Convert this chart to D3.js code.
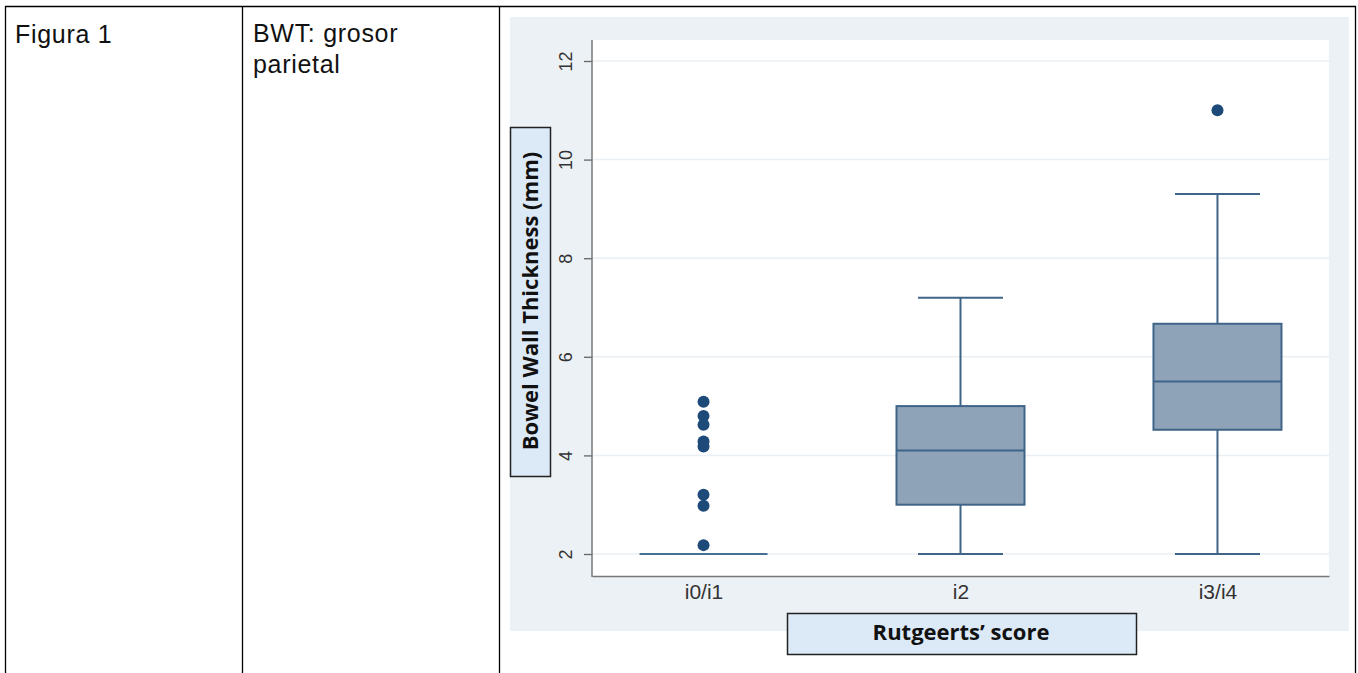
<!DOCTYPE html>
<html><head><meta charset="utf-8">
<script src="https://cdn.jsdelivr.net/npm/d3@7"></script>
<style>body{margin:0;background:#fff}svg{display:block}</style>
</head><body>
<svg id="c" width="1358" height="673"></svg>
<script>
const categories = ["i0/i1", "i2", "i3/i4"];
const q1 = [2, 3.0, 4.52];
const median = [2, 4.1, 5.5];
const q3 = [2, 5.0, 6.67];
const whiskerLow = [2, 2, 2];
const whiskerHigh = [2, 7.2, 9.3];
const outliers = [[5.09, 4.8, 4.62, 4.28, 4.18, 3.2, 2.98, 2.18], [], [11.0]];
const yTicks = [2, 4, 6, 8, 10, 12];

const svg = d3.select("#c");
// table lines
const tbl = svg.append("g").attr("stroke", "#000").attr("stroke-width", 1.3);
tbl.append("line").attr("x1", 5).attr("x2", 1356).attr("y1", 6.5).attr("y2", 6.5);
[5.5, 242.5, 499.5, 1355.5].forEach(x => tbl.append("line").attr("x1", x).attr("x2", x).attr("y1", 6).attr("y2", 673));
const cellFont = t => t.attr("font-family", "Liberation Sans, Arial").attr("font-size", 25).attr("letter-spacing", 0.7).attr("fill", "#111");
svg.append("text").attr("x", 15).attr("y", 43).call(cellFont).text("Figura 1");
svg.append("text").attr("x", 253).attr("y", 42).call(cellFont).text("BWT: grosor");
svg.append("text").attr("x", 253).attr("y", 73).call(cellFont).text("parietal");

// chart background
svg.append("rect").attr("x", 510).attr("y", 17).attr("width", 839).attr("height", 614).attr("fill", "#ecf1f5");
const L = 592, R = 1329, T = 40, B = 576;
svg.append("rect").attr("x", L).attr("y", T).attr("width", R - L).attr("height", B - T).attr("fill", "#fff");

const y = d3.scaleLinear().domain([2, 12]).range([554, 61]);
const x = d3.scalePoint().domain(categories).range([L, R]).padding(0.434);
const boxW = 128, capW = 85;

// grid
svg.append("g").selectAll("line").data(yTicks).join("line")
  .attr("x1", L).attr("x2", R).attr("y1", d => y(d)).attr("y2", d => y(d))
  .attr("stroke", "#eaeff3").attr("stroke-width", 1.5);

// axes
const ya = svg.append("g").attr("transform", `translate(${L},0)`)
  .call(d3.axisLeft(y).tickValues(yTicks).tickSize(8).tickFormat(d3.format("d")));
ya.select(".domain").remove();
ya.selectAll(".tick line").attr("stroke", "#666").attr("stroke-width", 1.3);
ya.selectAll(".tick text").attr("transform", "rotate(-90)").attr("x", 0).attr("y", -26)
  .attr("dy", "0.35em").attr("text-anchor", "middle").attr("font-family", "Liberation Sans, Arial")
  .attr("font-size", 18).attr("fill", "#333");
svg.append("line").attr("x1", L).attr("x2", L).attr("y1", T).attr("y2", B + 1).attr("stroke", "#777").attr("stroke-width", 1.5);

const xa = svg.append("g").attr("transform", `translate(0,${B})`).call(d3.axisBottom(x).tickSize(0));
xa.select(".domain").attr("stroke", "#777").attr("stroke-width", 1.5);
xa.selectAll(".tick text").attr("y", 16).attr("dy", "0.35em").attr("font-family", "Liberation Sans, Arial")
  .attr("font-size", 21).attr("fill", "#333");

// boxes
const stroke = "#3f6488", fill = "#8fa3b8";
categories.forEach((c, i) => {
  const cx = x(c);
  const g = svg.append("g");
  if (q3[i] > q1[i]) {
    g.append("line").attr("x1", cx).attr("x2", cx).attr("y1", y(q3[i])).attr("y2", y(whiskerHigh[i])).attr("stroke", stroke).attr("stroke-width", 2);
    g.append("line").attr("x1", cx).attr("x2", cx).attr("y1", y(q1[i])).attr("y2", y(whiskerLow[i])).attr("stroke", stroke).attr("stroke-width", 2);
    g.append("line").attr("x1", cx - capW / 2).attr("x2", cx + capW / 2).attr("y1", y(whiskerHigh[i])).attr("y2", y(whiskerHigh[i])).attr("stroke", stroke).attr("stroke-width", 2);
    g.append("line").attr("x1", cx - capW / 2).attr("x2", cx + capW / 2).attr("y1", y(whiskerLow[i])).attr("y2", y(whiskerLow[i])).attr("stroke", stroke).attr("stroke-width", 2);
    g.append("rect").attr("x", cx - boxW / 2).attr("y", y(q3[i])).attr("width", boxW).attr("height", y(q1[i]) - y(q3[i]))
      .attr("fill", fill).attr("stroke", stroke).attr("stroke-width", 2);
    g.append("line").attr("x1", cx - boxW / 2).attr("x2", cx + boxW / 2).attr("y1", y(median[i])).attr("y2", y(median[i])).attr("stroke", stroke).attr("stroke-width", 2);
  } else {
    g.append("line").attr("x1", cx - boxW / 2).attr("x2", cx + boxW / 2).attr("y1", y(median[i])).attr("y2", y(median[i])).attr("stroke", "#4a6f95").attr("stroke-width", 2);
  }
  g.selectAll("circle").data(outliers[i]).join("circle").attr("cx", cx).attr("cy", d => y(d)).attr("r", 6).attr("fill", "#1d4a78");
});

// axis titles
svg.append("rect").attr("x", 510.5).attr("y", 127.5).attr("width", 40).attr("height", 349).attr("fill", "#dce9f6").attr("stroke", "#222").attr("stroke-width", 1.5);
svg.append("text").attr("transform", "translate(530,301) rotate(-90)").attr("text-anchor", "middle").attr("dy", "0.35em")
  .attr("font-family", "Open Sans, DejaVu Sans").attr("font-weight", "bold").attr("font-size", 22).attr("fill", "#111")
  .text("Bowel Wall Thickness (mm)");
svg.append("rect").attr("x", 787.5).attr("y", 613.5).attr("width", 349).attr("height", 41).attr("fill", "#dce9f6").attr("stroke", "#222").attr("stroke-width", 1.5);
svg.append("text").attr("x", 961).attr("y", 640)
  .attr("text-anchor", "middle")
  .attr("font-family", "Open Sans, DejaVu Sans").attr("font-weight", "bold").attr("font-size", 22).attr("fill", "#111")
  .text("Rutgeerts’ score");
</script>
</body></html>
